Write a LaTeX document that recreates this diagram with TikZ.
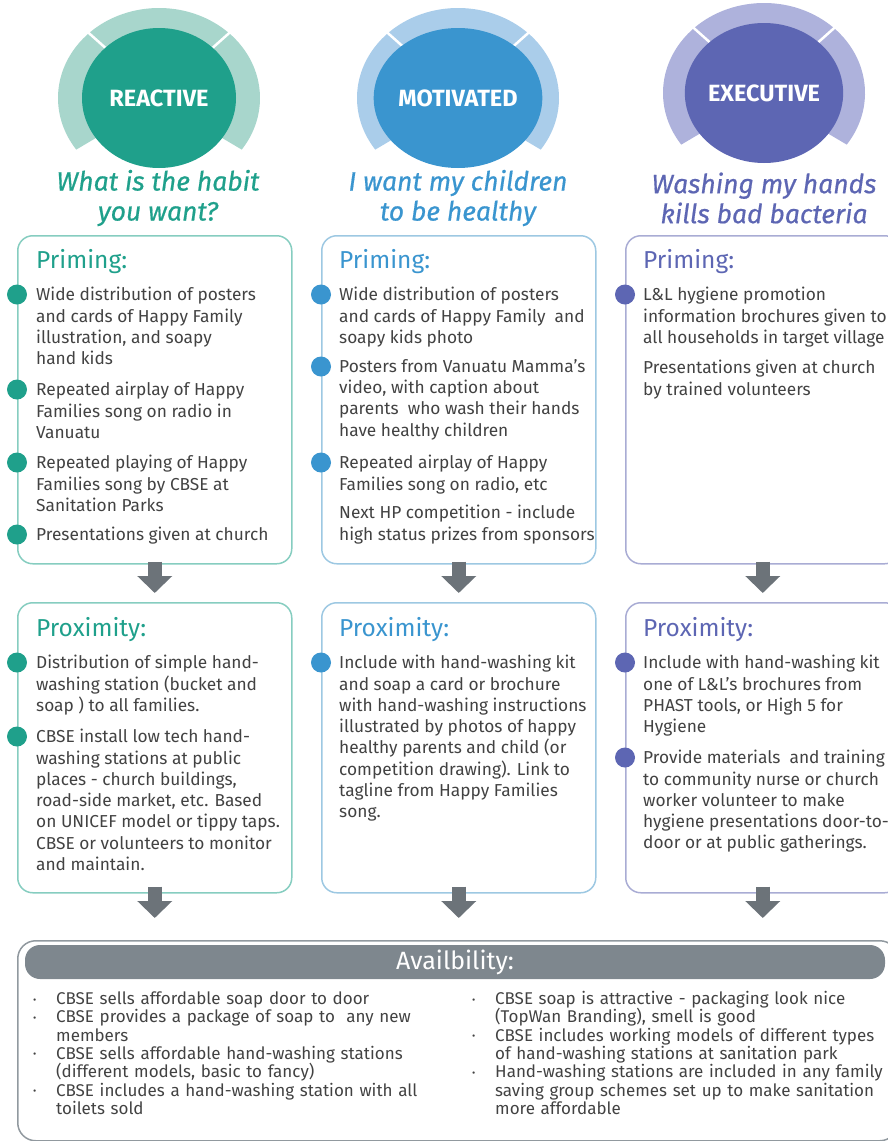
\documentclass[tikz,border=0pt]{standalone}
\usepackage{fontspec}
\setmainfont{Fira Sans}
\newfontfamily\mottofont{Fira Sans}[ItalicFeatures={FakeBold=0.6}]
\usepackage{tikz}
\usetikzlibrary{arrows.meta, positioning, shapes.geometric, calc}
\usepackage{xcolor}
\definecolor{hwteal}{HTML}{1FA08B}
\definecolor{hwtealring}{HTML}{A8D6CC}
\definecolor{hwtealline}{HTML}{86CDC0}
\definecolor{hwblue}{HTML}{3A95CF}
\definecolor{hwbluering}{HTML}{AACDEA}
\definecolor{hwblueline}{HTML}{9DC8E2}
\definecolor{hwpurple}{HTML}{5D66B3}
\definecolor{hwpurplering}{HTML}{AEB2DC}
\definecolor{hwpurpleline}{HTML}{A9ACD4}
\definecolor{hwtext}{HTML}{424242}
\definecolor{hwarrow}{HTML}{6C7379}
\definecolor{hwbar}{HTML}{7E878E}

% one bullet line of the availability lists, hanging indent for the rest
\newcommand{\avitem}[1]{\par\noindent\hangindent=23pt\hangafter=1\makebox[23pt][l]{\raisebox{1.5pt}{\fontsize{10}{10}\selectfont\textbullet}}#1\par}

\begin{document}
\begin{tikzpicture}[x=1pt, y=1pt,
    badge/.style={ellipse, fill=#1, minimum width=154pt, minimum height=140pt,
                  inner sep=0pt, text=white, font=\fontsize{23.5}{23.5}\selectfont\bfseries},
    ring/.style={fill=#1},
    notch/.style={draw=white, line width=2.5pt},
    motto/.style={align=center, text=#1, font=\mottofont\fontsize{26.5}{30}\selectfont\itshape},
    panel/.style={draw=#1, line width=1.5pt, rounded corners=15pt, anchor=north west,
                  inner sep=0pt, minimum width=274pt},
    head/.style={anchor=west, inner sep=0pt, text=#1, font=\fontsize{24.5}{24.5}\selectfont},
    item/.style={anchor=north west, inner sep=0pt, align=left, text=hwtext,
                 font=\fontsize{17.3}{21.3}\selectfont},
    dot/.style={circle, fill=#1, minimum size=20pt, inner sep=0pt, yshift=-7.5pt},
    flow/.style={-{Triangle[width=34pt, length=17pt]}, line width=14pt, draw=hwarrow},
    avlist/.style={anchor=north west, inner sep=0pt, text width=440pt, align=left,
                   text=hwtext, font=\fontsize{17}{18.3}\selectfont}
  ]
    \clip (0,0) rectangle (888,-1141);

    % gauges on top
    \coordinate (rc) at (159,-98);
    \coordinate (mc) at (458,-98);
    \coordinate (ec) at (764,-93);
    \fill[ring=hwtealring] ($(rc)+(-35:101pt and 90pt)$) arc[start angle=-35, end angle=215, x radius=101pt, y radius=90pt]
      -- ($(rc)+(215:75pt and 68pt)$) arc[start angle=215, end angle=-35, x radius=75pt, y radius=68pt] -- cycle;
    \fill[ring=hwbluering] ($(mc)+(-35:101pt and 90pt)$) arc[start angle=-35, end angle=215, x radius=101pt, y radius=90pt]
      -- ($(mc)+(215:75pt and 68pt)$) arc[start angle=215, end angle=-35, x radius=75pt, y radius=68pt] -- cycle;
    \fill[ring=hwpurplering] ($(ec)+(-35:101pt and 90pt)$) arc[start angle=-35, end angle=215, x radius=101pt, y radius=90pt]
      -- ($(ec)+(215:75pt and 68pt)$) arc[start angle=215, end angle=-35, x radius=75pt, y radius=68pt] -- cycle;
    \draw[notch] ($(rc)+(134:103pt and 92pt)$) -- ($(rc)+(134:74pt and 67pt)$);
    \draw[notch] ($(rc)+(46:103pt and 92pt)$) -- ($(rc)+(46:74pt and 67pt)$);
    \draw[notch] ($(mc)+(134:103pt and 92pt)$) -- ($(mc)+(134:74pt and 67pt)$);
    \draw[notch] ($(mc)+(46:103pt and 92pt)$) -- ($(mc)+(46:74pt and 67pt)$);
    \draw[notch] ($(ec)+(134:103pt and 92pt)$) -- ($(ec)+(134:74pt and 67pt)$);
    \draw[notch] ($(ec)+(46:103pt and 92pt)$) -- ($(ec)+(46:74pt and 67pt)$);
    \node[badge=hwteal] (reactive) at (rc) {REACTIVE};
    \node[badge=hwblue] (motivated) at (mc) {MOTIVATED};
    \node[badge=hwpurple] (executive) at (ec) {EXECUTIVE};

    \node[motto=hwteal] (habit) at (158,-198) {What is the habit\\you want?};
    \node[motto=hwblue] (healthy) at (458,-198) {I want my children\\to be healthy};
    \node[motto=hwpurple] (bacteria) at (764,-198) {Washing my hands\\kills bad bacteria};

    % priming row
    \node[panel=hwtealline, minimum height=328pt] (prime1) at (17,-235) {};
    \node[panel=hwblueline, minimum height=328pt] (prime2) at (321,-235) {};
    \node[panel=hwpurpleline, minimum height=328pt] (prime3) at (625,-235) {};

    \node[head=hwteal] (ph1) at (36,-262) {Priming:};
    \node[item] (p1a) at (36,-287) {Wide distribution of posters\\and cards of Happy Family\\illustration, and soapy\\hand kids};
    \node[item] (p1b) at (36,-382) {Repeated airplay of Happy\\Families song on radio in\\Vanuatu};
    \node[item] (p1c) at (36,-455) {Repeated playing of Happy\\Families song by CBSE at\\Sanitation Parks};
    \node[item] (p1d) at (36,-527) {Presentations given at church};
    \node[dot=hwteal] (d1a) at (prime1.west |- p1a.north) {};
    \node[dot=hwteal] (d1b) at (prime1.west |- p1b.north) {};
    \node[dot=hwteal] (d1c) at (prime1.west |- p1c.north) {};
    \node[dot=hwteal] (d1d) at (prime1.west |- p1d.north) {};

    \node[head=hwblue] (ph2) at (339,-262) {Priming:};
    \node[item] (p2a) at (339,-287) {Wide distribution of posters\\and cards of Happy Family\ \ and\\soapy kids photo};
    \node[item] (p2b) at (339,-359) {Posters from Vanuatu Mamma's\\video, with caption about\\parents\ \ who wash their hands\\have healthy children};
    \node[item] (p2c) at (339,-455) {Repeated airplay of Happy\\Families song on radio, etc};
    \node[item] (p2d) at (339,-505) {Next HP competition - include\\high status prizes from sponsors};
    \node[dot=hwblue] (d2a) at (prime2.west |- p2a.north) {};
    \node[dot=hwblue] (d2b) at (prime2.west |- p2b.north) {};
    \node[dot=hwblue] (d2c) at (prime2.west |- p2c.north) {};

    \node[head=hwpurple] (ph3) at (643,-262) {Priming:};
    \node[item] (p3a) at (643,-287) {L\&L hygiene promotion\\information brochures given to\\all households in target village};
    \node[item] (p3b) at (643,-360) {Presentations given at church\\by trained volunteers};
    \node[dot=hwpurple] (d3a) at (prime3.west |- p3a.north) {};

    % proximity row
    \node[panel=hwtealline, minimum height=290pt] (prox1) at (17,-602) {};
    \node[panel=hwblueline, minimum height=290pt] (prox2) at (321,-602) {};
    \node[panel=hwpurpleline, minimum height=290pt] (prox3) at (625,-602) {};

    \node[head=hwteal] (xh1) at (36,-630) {Proximity:};
    \node[item] (x1a) at (36,-655) {Distribution of simple hand-\\washing station (bucket and\\soap ) to all families.};
    \node[item] (x1b) at (36,-729) {CBSE install low tech hand-\\washing stations at public\\places - church buildings,\\road-side market, etc. Based\\on UNICEF model or tippy taps.\\CBSE or volunteers to monitor\\and maintain.};
    \node[dot=hwteal] (e1a) at (prox1.west |- x1a.north) {};
    \node[dot=hwteal] (e1b) at (prox1.west |- x1b.north) {};

    \node[head=hwblue] (xh2) at (339,-630) {Proximity:};
    \node[item] (x2a) at (339,-655) {Include with hand-washing kit\\and soap a card or brochure\\with hand-washing instructions\\illustrated by photos of happy\\healthy parents and child (or\\competition drawing). Link to\\tagline from Happy Families\\song.};
    \node[dot=hwblue] (e2a) at (prox2.west |- x2a.north) {};

    \node[head=hwpurple] (xh3) at (643,-630) {Proximity:};
    \node[item] (x3a) at (643,-655) {Include with hand-washing kit\\one of L\&L's brochures from\\PHAST tools, or High 5 for\\Hygiene};
    \node[item] (x3b) at (643,-750) {Provide materials\ \ and training\\to community nurse or church\\worker volunteer to make\\hygiene presentations door-to-\\door or at public gatherings.};
    \node[dot=hwpurple] (e3a) at (prox3.west |- x3a.north) {};
    \node[dot=hwpurple] (e3b) at (prox3.west |- x3b.north) {};

    % availability
    \node[draw=hwbar!85, line width=1.5pt, rounded corners=18pt, anchor=north west,
          inner sep=0pt, minimum width=880pt, minimum height=200pt] (avail) at (17,-940) {};
    \node[fill=hwbar, rounded corners=15pt, minimum width=860pt, minimum height=34pt,
          text=white, font=\fontsize{25}{25}\selectfont] (availhead) at (455,-962) {Availbility:};
    \node[avlist] (avleft) at (33,-986) {%
      \avitem{CBSE sells affordable soap door to door}%
      \avitem{CBSE provides a package of soap to\ \ any new\newline members}%
      \avitem{CBSE sells affordable hand-washing stations\newline (different models, basic to fancy)}%
      \avitem{CBSE includes a hand-washing station with all\newline toilets sold}};
    \node[avlist] (avright) at (472,-986) {%
      \avitem{CBSE soap is attractive - packaging look nice\newline (TopWan Branding), smell is good}%
      \avitem{CBSE includes working models of different types\newline of hand-washing stations at sanitation park}%
      \avitem{Hand-washing stations are included in any family\newline saving group schemes set up to make sanitation\newline more affordable}};

    % flow between the rows
    \draw[flow, shorten <=-3pt, shorten >=9pt] (prime1.south) -- (prox1.north);
    \draw[flow, shorten <=-3pt, shorten >=9pt] (prime2.south) -- (prox2.north);
    \draw[flow, shorten <=-3pt, shorten >=9pt] (prime3.south) -- (prox3.north);
    \draw[flow, shorten <=-7pt, shorten >=22pt] (prox1.south) -- (prox1.south |- avail.north);
    \draw[flow, shorten <=-7pt, shorten >=22pt] (prox2.south) -- (prox2.south |- avail.north);
    \draw[flow, shorten <=-7pt, shorten >=22pt] (prox3.south) -- (prox3.south |- avail.north);
  \end{tikzpicture}
\end{document}
